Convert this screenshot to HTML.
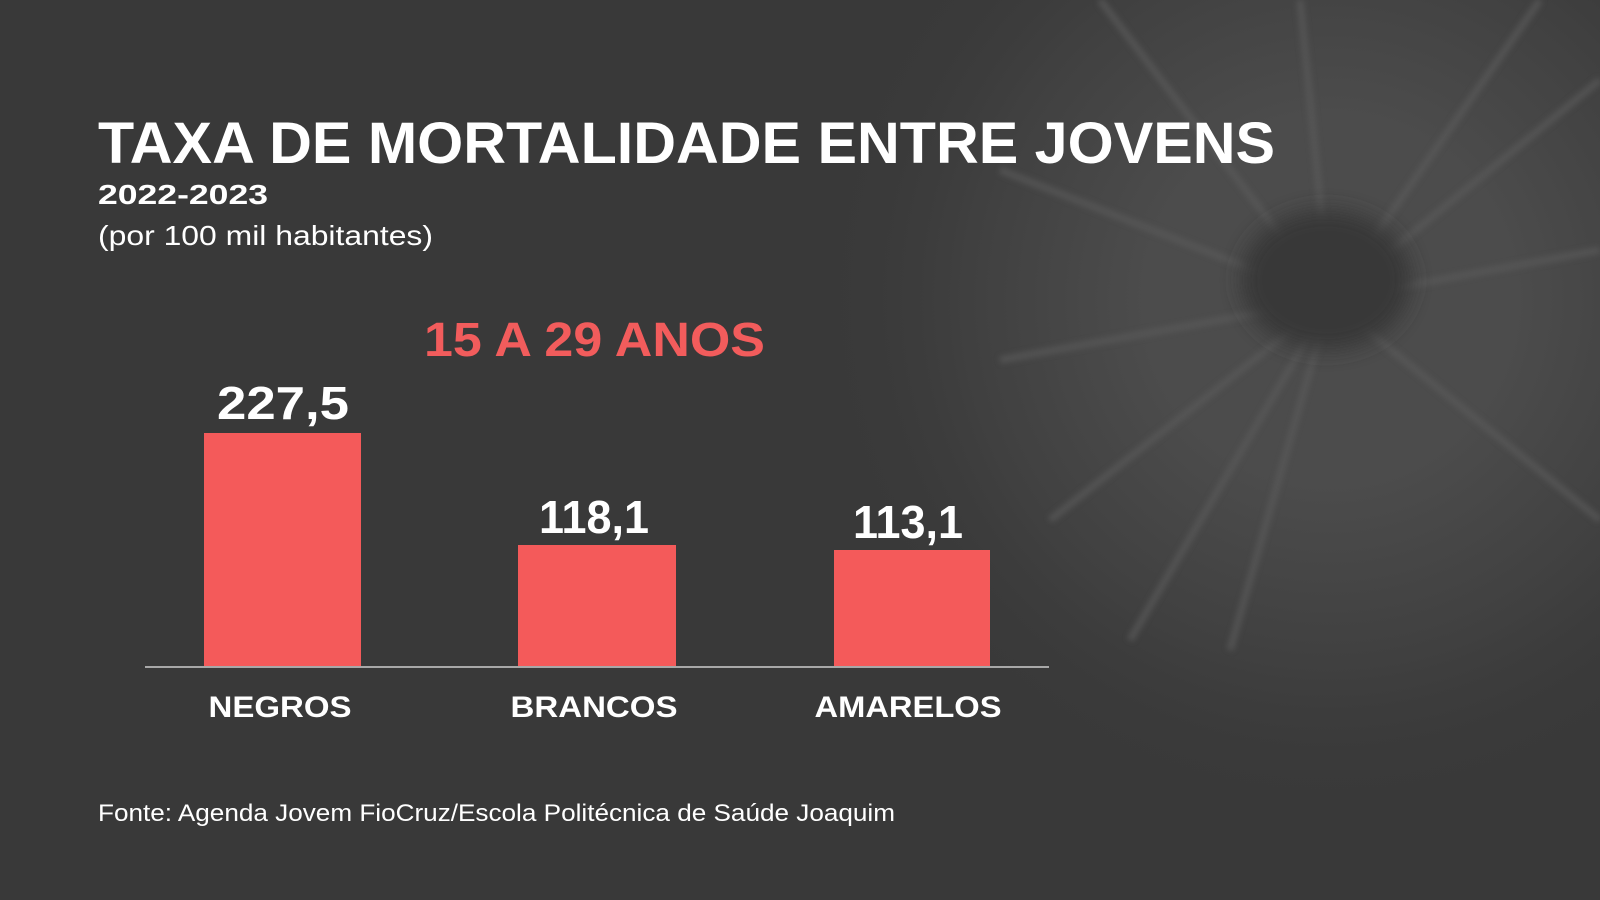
<!DOCTYPE html>
<html><head><meta charset="utf-8"><style>
html,body{margin:0;padding:0;width:1600px;height:900px;overflow:hidden;background:#393939}
</style></head><body>
<svg width="1600" height="900" viewBox="0 0 1600 900" xmlns="http://www.w3.org/2000/svg" style="display:block">
<defs>
<radialGradient id="g1" cx="1330" cy="300" r="520" gradientUnits="userSpaceOnUse">
<stop offset="0" stop-color="#4c4c4c"/>
<stop offset="0.35" stop-color="#4c4c4c"/>
<stop offset="0.7" stop-color="#404040"/>
<stop offset="1" stop-color="#393939" stop-opacity="0"/>
</radialGradient>
<filter id="bl" x="-20%" y="-20%" width="140%" height="140%"><feGaussianBlur stdDeviation="3"/></filter>
<filter id="bl2" x="-50%" y="-50%" width="200%" height="200%"><feGaussianBlur stdDeviation="10"/></filter>
</defs>
<rect width="1600" height="900" fill="#393939"/>
<rect width="1600" height="900" fill="url(#g1)"/>
<g stroke="#5a5a5a" stroke-width="7" fill="none" opacity="0.7" filter="url(#bl)">
<line x1="1330" y1="300" x2="1540" y2="0"/>
<line x1="1330" y1="300" x2="1100" y2="0"/>
<line x1="1330" y1="300" x2="1000" y2="170"/>
<line x1="1330" y1="300" x2="1050" y2="520"/>
<line x1="1330" y1="300" x2="1230" y2="650"/>
<line x1="1330" y1="300" x2="1600" y2="520"/>
<line x1="1330" y1="300" x2="1600" y2="250"/>
<line x1="1330" y1="300" x2="1300" y2="0"/>
<line x1="1330" y1="300" x2="1130" y2="640"/>
<line x1="1330" y1="300" x2="1600" y2="80"/>
<line x1="1330" y1="300" x2="1000" y2="360"/>
</g>
<ellipse cx="1326" cy="280" rx="85" ry="70" fill="#383838" filter="url(#bl2)"/>
<g font-family="Liberation Sans, sans-serif" fill="#fff">
<text x="98" y="163" font-size="58" font-weight="bold" textLength="1177" lengthAdjust="spacingAndGlyphs">TAXA DE MORTALIDADE ENTRE JOVENS</text>
<text x="98" y="204" font-size="28" font-weight="bold" textLength="170" lengthAdjust="spacingAndGlyphs">2022-2023</text>
<text x="98" y="245" font-size="28" textLength="335" lengthAdjust="spacingAndGlyphs">(por 100 mil habitantes)</text>
<text x="424" y="356" font-size="48" font-weight="bold" fill="#f25c5c" textLength="341" lengthAdjust="spacingAndGlyphs">15 A 29 ANOS</text>
<rect x="204" y="433" width="157" height="233" fill="#f45a5a"/>
<rect x="518" y="545" width="158" height="121" fill="#f45a5a"/>
<rect x="834" y="550" width="156" height="116" fill="#f45a5a"/>
<line x1="145" y1="667" x2="1049" y2="667" stroke="#a8a8a8" stroke-width="2"/>
<text x="283" y="419" font-size="46" font-weight="bold" text-anchor="middle" textLength="132" lengthAdjust="spacingAndGlyphs">227,5</text>
<text x="594" y="533" font-size="46" font-weight="bold" text-anchor="middle" textLength="110" lengthAdjust="spacingAndGlyphs">118,1</text>
<text x="908" y="538" font-size="46" font-weight="bold" text-anchor="middle" textLength="110" lengthAdjust="spacingAndGlyphs">113,1</text>
<text x="280" y="717" font-size="30" font-weight="bold" text-anchor="middle" textLength="143" lengthAdjust="spacingAndGlyphs">NEGROS</text>
<text x="594" y="717" font-size="30" font-weight="bold" text-anchor="middle" textLength="167" lengthAdjust="spacingAndGlyphs">BRANCOS</text>
<text x="908" y="717" font-size="30" font-weight="bold" text-anchor="middle" textLength="187" lengthAdjust="spacingAndGlyphs">AMARELOS</text>
<text x="98" y="821" font-size="24" textLength="797" lengthAdjust="spacingAndGlyphs">Fonte: Agenda Jovem FioCruz/Escola Politécnica de Saúde Joaquim</text>
</g>
</svg>
</body></html>
